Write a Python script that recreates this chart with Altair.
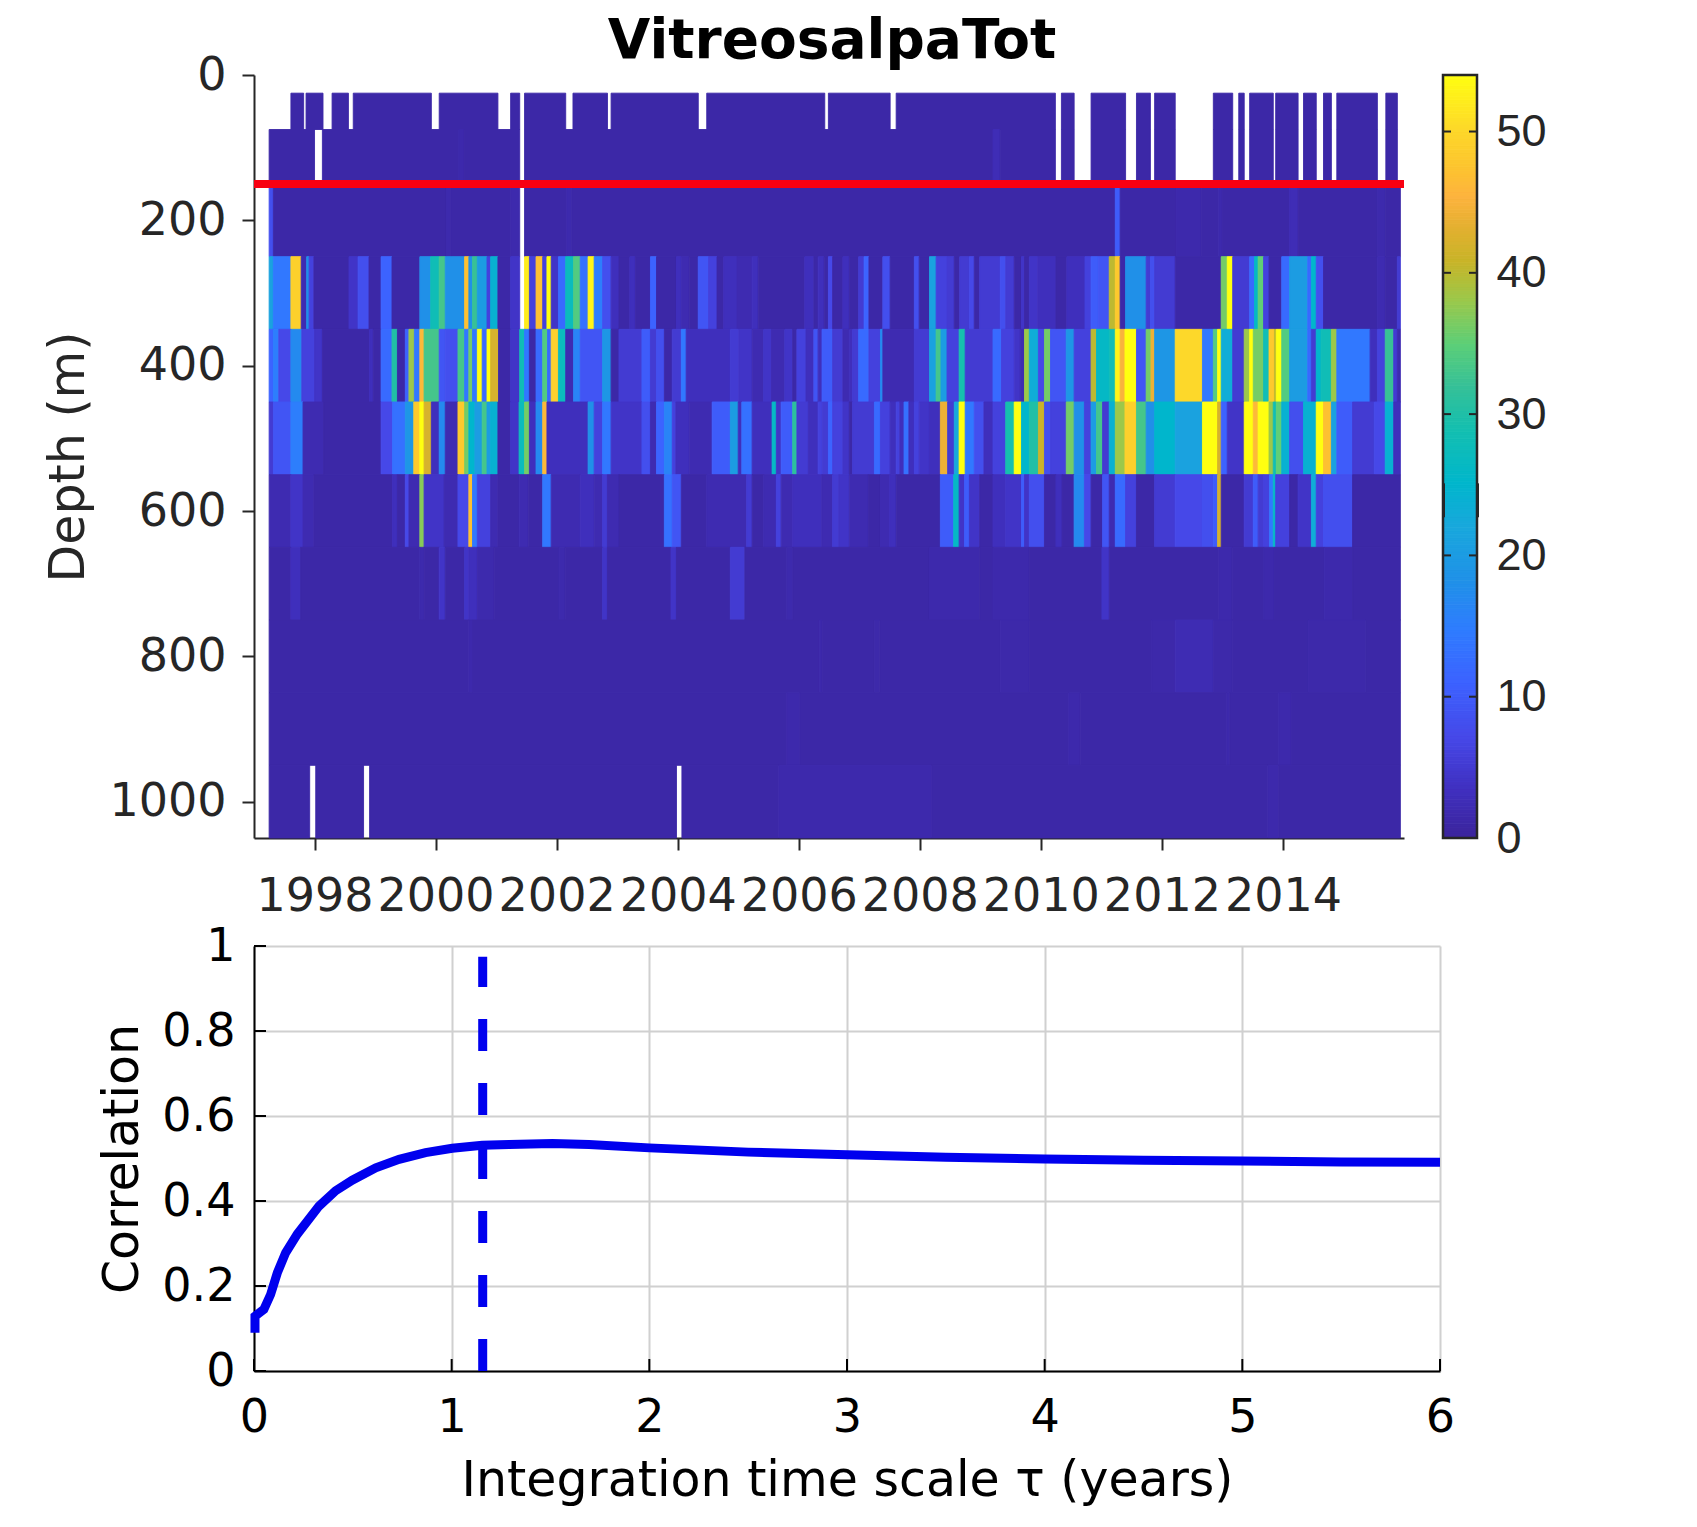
import altair as alt
import pandas as pd

TITLE = "VitreosalpaTot"

# each entry (t, value): a run starting t years after 1 Jan 1997; value None = no data; last entry closes the row
row_25 = [(.61,1),(.82,None),(.86,1),(1.14,None),(1.29,1),(1.56,None),(1.64,1),(2.93,None),(3.06,1),(4.03,None),(4.24,1),(4.39,None),(4.47,1),(5.15,None),(5.27,1),(5.84,None),(5.90,1),(7.34,None),(7.48,1),(9.43,None),(9.49,1),(10.51,None),(10.61,1),(13.24,None),(13.34,1),(13.55,None),(13.83,1),(14.40,None),(14.58,1),(14.81,None),(14.88,1),(15.22,None),(15.85,1),(16.17,None),(16.27,1),(16.36,None),(16.45,1),(16.84,None),(16.88,1),(17.25,None),(17.34,1),(17.55,None),(17.67,1),(17.80,None),(17.89,1),(18.56,None),(18.70,1),(18.89,None)]
row_75 = [(.25,1),(1.00,None),(1.13,1),(3.38,1.5),(3.47,1),(4.39,None),(4.47,1),(12.21,2.5),(12.33,1),(13.24,None),(13.34,1),(13.55,None),(13.83,1),(14.40,None),(14.58,1),(14.81,None),(14.88,1),(15.22,None),(15.85,1),(16.17,None),(16.27,1),(16.36,None),(16.45,1),(16.84,None),(16.88,1),(17.25,None),(17.34,1),(17.55,None),(17.67,1),(17.80,None),(17.89,1),(18.56,None),(18.70,1),(18.89,None)]
row_150 = [(.25,8),(.32,1),(3.18,1.6),(3.25,1),(4.24,1.6),(4.39,None),(4.47,1),(5.17,1.6),(5.25,1),(14.23,10),(14.31,1),(15.24,1.5),(15.65,1),(15.94,1.6),(16.0,1),(17.11,2.5),(17.25,1),(18.56,1.6),(18.69,1),(18.94,None)]
row_250 = [(.25,21),(.32,14),(.61,49),(.78,2),(.87,18),(.91,6),(.99,1),(1.57,4),(1.72,8),(1.90,1),(2.10,11),(2.28,1),(2.74,18),(2.92,28),(3.06,33),(3.16,18),(3.48,47),(3.55,18),(3.61,32),(3.69,20),(3.85,6),(3.91,24),(4.03,1),(4.24,4),(4.39,None),(4.47,52),(4.55,6),(4.66,47),(4.77,6),(4.84,54),(4.91,4),(5.03,12),(5.15,27),(5.28,34),(5.39,13),(5.52,53),(5.62,15),(5.76,8),(5.90,3),(6.03,1),(6.21,3),(6.30,1),(6.55,11),(6.65,1),(6.98,3),(7.06,2),(7.19,1),(7.34,9),(7.51,6),(7.65,1),(7.76,3),(7.98,2),(8.23,3),(8.33,1),(9.10,3),(9.25,1),(9.32,3),(9.42,1),(9.49,7),(9.56,1),(9.73,3),
           (9.835,1),(9.99,5),(10.08,11),(10.16,1),(10.39,8),(10.51,1),(10.91,8),(10.99,1),(11.16,21),(11.27,6),(11.45,5),(11.57,1),(11.66,5),(11.82,7),(11.90,1),(11.99,5),(12.33,8),(12.42,5),(12.56,1),(12.68,4),(12.73,1),(12.81,4),(12.95,3),(13.25,1),(13.43,3),(13.73,6),(13.83,10),(13.95,9),(14.13,40),(14.23,48),(14.31,1),(14.40,18),(14.74,5),(14.81,8),(14.88,5),(15.22,1),(15.98,36),(16.08,54),(16.17,5),(16.45,12),(16.53,26),(16.59,35),(16.68,6),(16.77,1),(16.98,12),(17.11,20),(17.41,12),(17.47,25),(17.55,8),(17.67,1),(18.56,2),(18.69,1),(18.89,5),(18.94,None)]
row_350 = [(.25,11),(.32,15),(.41,7),(.61,17),(.79,6),(1.00,4),(1.13,1),(1.91,3),(1.97,1),(2.10,12),(2.28,30),(2.37,1),(2.50,11),(2.56,38),(2.65,14),(2.74,46),(2.81,33),(3.06,9),(3.16,8),(3.37,33),(3.48,14),(3.55,36),(3.61,14),(3.69,54),(3.77,12),(3.85,54),(3.91,42),(4.04,1),(4.24,4),(4.39,28),(4.47,14),(4.55,1),(4.66,12),(4.77,34),(4.85,12),(4.91,49),(5.03,27),(5.15,2),(5.28,16),(5.39,9),(5.76,19),(5.90,1),(6.03,5),(6.41,10),(6.55,5),(6.65,8),(6.78,1),(6.91,5),(7.06,14),(7.14,3),(7.87,5),(8.01,4),(8.23,2),(8.42,4),(8.55,2),(8.77,4),(8.90,1),(8.97,6),(9.12,3),(9.25,9),(9.32,3),(9.385,10),(9.56,5),(9.73,2),
           (9.835,3),(9.89,5),(9.99,12),(10.16,6),(10.35,17),(10.39,2),(10.91,5),(11.16,21),(11.27,33),(11.35,20),(11.45,6),(11.65,29),(11.75,5),(12.21,12),(12.35,6),(12.56,4),(12.66,2),(12.73,38),(12.81,23),(12.96,7),(13.06,36),(13.16,9),(13.42,19),(13.55,6),(13.83,40),(13.92,26),(14.13,28),(14.23,53),(14.31,45),(14.39,54),(14.58,9),(14.74,36),(14.82,44),(14.88,19),(15.22,50),(15.67,14),(15.85,34),(15.92,54),(15.98,23),(16.17,5),(16.36,38),(16.45,54),(16.51,36),(16.68,28),(16.77,48),(16.86,40),(16.89,54),(16.98,34),(17.11,20),(17.41,12),(17.47,5),(17.55,25),(17.63,28),(17.80,38),(17.89,14),(18.44,3),(18.56,6),(18.69,32),(18.83,5),(18.89,2),(18.94,None)]
row_450 = [(.25,5),(.32,9),(.61,15),(.81,2),(1.15,1),(2.10,7),(2.29,13),(2.50,19),(2.64,48),(2.74,54),(2.81,42),(2.93,3),(3.06,17),(3.16,2),(3.37,48),(3.48,36),(3.55,25),(3.65,20),(3.77,33),(3.85,20),(3.91,24),(4.03,1),(4.24,4),(4.38,27),(4.47,36),(4.55,3),(4.66,17),(4.77,46),(4.84,3),(5.52,18),(5.62,6),(5.76,14),(5.90,4),(6.41,8),(6.55,2),(6.65,11),(6.78,16),(6.91,6),(6.97,3),(7.19,2),(7.57,10),(7.87,20),(8.00,3),(8.06,13),(8.23,3),(8.56,26),(8.63,4),(8.71,10),(8.90,31),(8.97,5),(9.16,3),(9.32,6),(9.39,5),(9.49,11),(9.56,6),(9.73,4),
           (9.835,1),(9.89,5),(10.25,12),(10.35,6),(10.51,3),(10.61,6),(10.67,3),(10.74,13),(10.82,3),(10.91,6),(10.99,4),(11.16,3),(11.34,44),(11.46,5),(11.57,22),(11.65,54),(11.75,14),(11.90,8),(12.06,3),(12.21,6),(12.42,29),(12.56,54),(12.68,25),(12.81,30),(12.96,41),(13.06,8),(13.16,6),(13.42,36),(13.55,18),(13.72,6),(13.83,20),(13.92,33),(14.02,5),(14.13,24),(14.23,38),(14.39,49),(14.58,33),(14.74,18),(14.88,25),(15.22,21),(15.67,54),(15.92,42),(15.98,11),(16.08,4),(16.36,54),(16.51,46),(16.59,54),(16.77,38),(16.84,28),(16.89,35),(16.98,24),(17.11,8),(17.34,24),(17.55,54),(17.67,47),(17.80,21),(17.89,10),(18.15,5),(18.51,7),(18.69,24),(18.83,3),(18.94,None)]
row_550 = [(.25,2),(.61,4),(.81,2),(.99,1),(2.29,3),(2.37,1),(2.50,7),(2.56,2),(2.74,37),(2.81,4),(3.14,2),(3.37,7),(3.55,47),(3.61,14),(3.69,6),(3.91,2),(4.03,1),(4.38,2),(4.53,1),(4.77,14),(4.91,2),(5.39,3),(5.62,2),(5.76,5),(5.84,2),(6.03,1),(6.78,13),(6.91,9),(7.06,1),(7.48,2),(8.14,5),(8.23,1),(8.42,2),(8.63,6),(8.71,2),(8.90,3),(9.38,2),(9.56,5),(9.66,4),
           (9.835,2),(10.15,1),(10.35,2),(10.50,3),(10.61,1),(11.34,10),(11.56,26),(11.65,4),(11.74,10),(11.82,4),(11.99,1),(12.21,3),(12.42,4),(12.68,10),(12.73,4),(12.81,8),(13.06,1),(13.25,3),(13.35,1),(13.55,17),(13.72,7),(13.83,1),(14.02,9),(14.13,2),(14.23,12),(14.40,6),(14.58,1),(14.88,5),(15.22,7),(15.67,8),(15.85,10),(15.92,42),(15.98,1),(16.36,5),(16.51,10),(16.59,5),(16.68,6),(16.78,14),(16.84,26),(16.88,6),(17.11,1),(17.25,4),(17.47,23),(17.55,6),(17.67,8),(18.15,1),(18.94,None)]
row_650 = [(.25,1),(.61,3),(.77,1),(2.74,1.6),(2.81,1),(3.06,4),(3.16,1),(3.48,4),(3.55,3),(3.69,1.6),(3.97,1),(5.04,1.6),(5.14,1),(5.76,4),(5.84,1),(6.89,4),(6.98,1),(7.87,5),(8.11,1),(8.80,1.6),(8.90,1),(11.16,1.5),(11.99,1),(12.21,1.5),(12.81,1),(14.01,4),(14.13,1),(15.94,1.5),(16.16,1),(16.68,1.5),(16.86,1),(17.68,1.5),(18.15,1),(18.94,None)]
row_750 = [(.25,1),(3.55,1.5),(3.61,1),(9.34,1.5),(9.39,1),(10.25,1.3),(10.34,1),(12.33,1.3),(12.81,1),(14.83,1.3),(15.22,2.2),(15.85,1.3),(16.16,1),(17.42,1.3),(18.37,1),(18.94,None)]
row_850 = [(.25,1),(8.80,1.5),(9.02,1),(13.46,1.5),(13.65,1),(16.07,1.5),(16.12,1),(16.93,1.5),(17.14,1),(18.94,None)]
row_950 = [(.25,1),(.92,None),(1.02,1),(1.81,None),(1.91,1),(6.98,None),(7.07,1),(8.67,1.5),(11.2,1),(16.75,1.5),(16.93,1),(18.94,None)]

rows = [row_25, row_75, row_150, row_250, row_350, row_450, row_550, row_650, row_750, row_850, row_950]
depth_tops = [25, 75, 150, 250, 350, 450, 550, 650, 750, 850, 950]
depth_bottoms = [75, 150, 250, 350, 450, 550, 650, 750, 850, 950, 1050]

year_start, year_end = 1997, 2016
year_ticks = [1998, 2000, 2002, 2004, 2006, 2008, 2010, 2012, 2014]
depth_ticks = [0, 200, 400, 600, 800, 1000]
ref_depth = 150

cbar_ticks = [0, 10, 20, 30, 40, 50]
cbar_mark = [22.7, 25.1]
cmap_values = [0, 3.4, 7, 10.9, 14.6, 18, 22, 25, 28.8, 31.8, 34.8, 38, 40.7, 43, 45.3, 47.5, 50, 54]
cmap_colors = ["#3b249c", "#4030c0", "#4648e8", "#3c62ff", "#2f7cff", "#2090e8", "#18a8dc", "#00b6cc", "#14bfb0",
               "#35c098", "#5ccf78", "#9cc84a", "#c8b428", "#e2b030", "#fdb33e", "#fdc52e", "#fdd82a", "#ffff10"]

tau = [0.005, 0.005, 0.05, 0.084, 0.118, 0.16, 0.219, 0.329, 0.413, 0.497, 0.616, 0.734, 0.868, 1.003, 1.155, 1.29, 1.51, 1.695, 2.0, 2.5, 3.0, 3.5, 4.0, 4.5, 5.0, 5.5, 6.0]
corr = [0.09, 0.129, 0.145, 0.18, 0.231, 0.278, 0.322, 0.388, 0.424, 0.449, 0.478, 0.498, 0.514, 0.524, 0.531, 0.533, 0.535, 0.533, 0.525, 0.515, 0.509, 0.503, 0.499, 0.496, 0.494, 0.492, 0.491]
tau_best = 1.157
tau_best_top = 0.975
corr_ticks = [0, 0.2, 0.4, 0.6, 0.8, 1]
tau_ticks = [0, 1, 2, 3, 4, 5, 6]

INK = "#262626"
FONT = "DejaVu Sans"

cells = []
for top, bot, row in zip(depth_tops, depth_bottoms, rows):
    for (a, v), (b, _) in zip(row[:-1], row[1:]):
        if v is not None:
            cells.append({"x0": year_start + a, "x1": year_start + b, "d0": top, "d1": bot, "v": v})
cells = pd.DataFrame(cells)

color_scale = alt.Scale(domain=cmap_values, range=cmap_colors, interpolate="rgb")
x_scale = alt.Scale(domain=[year_start, year_end], nice=False)
d_scale = alt.Scale(domain=[0, 1050], reverse=True, nice=False)

heat = alt.Chart(cells).mark_rect(strokeWidth=0.9).encode(
    x=alt.X("x0:Q", scale=x_scale, title=None,
            axis=alt.Axis(values=year_ticks, format="d", grid=False, tickSize=12, tickWidth=2, tickColor=INK,
                          domainColor=INK, domainWidth=2, labelFont=FONT, labelFontSize=46, labelColor=INK,
                          labelPadding=24, labelOverlap=False, labelFlush=False)),
    x2="x1:Q",
    y=alt.Y("d0:Q", scale=d_scale,
            axis=alt.Axis(values=depth_ticks, format="d", grid=False, tickSize=12, tickWidth=2, tickColor=INK,
                          domainColor=INK, domainWidth=2, labelFont=FONT, labelFontSize=46, labelColor=INK,
                          labelPadding=16, title="Depth (m)", titleFont=FONT, titleFontSize=49,
                          titleFontWeight="normal", titleColor=INK, titlePadding=15)),
    y2="d1:Q",
    color=alt.Color("v:Q", scale=color_scale, legend=None),
    stroke=alt.Color("v:Q", scale=color_scale, legend=None),
)
red = alt.Chart(pd.DataFrame({"x0": [year_start], "x1": [year_end], "d": [ref_depth]})).mark_rule(
    color="#f80012", strokeWidth=8).encode(x="x0:Q", x2="x1:Q", y="d:Q")
top_panel = alt.layer(heat, red).properties(
    width=1150, height=763,
    title=alt.TitleParams(TITLE, font=FONT, fontSize=55, fontWeight="bold", color="black", anchor="middle", offset=-18, dx=3),
)

cbar_df = pd.DataFrame({"v0": [i * 0.25 for i in range(216)], "v1": [(i + 1) * 0.25 for i in range(216)]})
cb_scale = alt.Scale(domain=[0, 54], nice=False)
cb_rect = alt.Chart(cbar_df).mark_rect(strokeWidth=0.9).encode(
    y=alt.Y("v0:Q", scale=cb_scale, title=None,
            axis=alt.Axis(orient="right", values=cbar_ticks, format="d", grid=False, ticks=False, domain=False,
                          labelFont="Liberation Sans", labelFontSize=45, labelColor=INK, labelPadding=19)),
    y2="v1:Q",
    x=alt.value(0), x2=alt.value(34),
    color=alt.Color("v0:Q", scale=color_scale, legend=None),
    stroke=alt.Color("v0:Q", scale=color_scale, legend=None),
)
cb_df = pd.DataFrame({"v": cbar_ticks})
cb_l = alt.Chart(cb_df).mark_rule(color=INK, strokeWidth=2).encode(y=alt.Y("v:Q", scale=cb_scale), x=alt.value(0), x2=alt.value(8))
cb_r = alt.Chart(cb_df).mark_rule(color=INK, strokeWidth=2).encode(y=alt.Y("v:Q", scale=cb_scale), x=alt.value(26), x2=alt.value(34))
cb_box = alt.Chart(pd.DataFrame({"a": [0], "b": [54]})).mark_rect(fillOpacity=0, stroke=INK, strokeWidth=2.5).encode(
    y=alt.Y("a:Q", scale=cb_scale), y2="b:Q", x=alt.value(0), x2=alt.value(34))
cm_df = pd.DataFrame({"a": [cbar_mark[0]], "b": [cbar_mark[1]]})
cm_l = alt.Chart(cm_df).mark_rule(color=INK, strokeWidth=3).encode(y=alt.Y("a:Q", scale=cb_scale), y2="b:Q", x=alt.value(0.5))
cm_r = alt.Chart(cm_df).mark_rule(color=INK, strokeWidth=3).encode(y=alt.Y("a:Q", scale=cb_scale), y2="b:Q", x=alt.value(34.5))
colorbar = alt.layer(cb_rect, cb_box, cb_l, cb_r, cm_l, cm_r).properties(width=34, height=763)

tau_scale = alt.Scale(domain=[0, 6], nice=False)
corr_scale = alt.Scale(domain=[0, 1], nice=False)
line_df = pd.DataFrame({"tau": tau, "corr": corr, "o": range(len(tau))})
line = alt.Chart(line_df).mark_line(color="#0000ee", strokeWidth=9, strokeCap="butt", clip=False).encode(
    x=alt.X("tau:Q", scale=tau_scale,
            axis=alt.Axis(values=tau_ticks, format="d", grid=True, gridColor="#d0d0d0", gridWidth=2, ticks=False,
                          domainColor="black", domainWidth=2, labelFont=FONT, labelFontSize=46, labelColor="black",
                          labelPadding=24, labelFlush=False, title="Integration time scale τ (years)", titleFont=FONT,
                          titleFontSize=49, titleFontWeight="normal", titleColor="black", titlePadding=16)),
    y=alt.Y("corr:Q", scale=corr_scale,
            axis=alt.Axis(values=corr_ticks, labelExpr="datum.value == 0 ? '0' : datum.value == 1 ? '1' : format(datum.value, '.1f')",
                          grid=True, gridColor="#d0d0d0", gridWidth=2, ticks=False,
                          domainColor="black", domainWidth=2, labelFont=FONT, labelFontSize=46, labelColor="black",
                          labelPadding=19, title="Correlation", titleFont=FONT, titleFontSize=49,
                          titleFontWeight="normal", titleColor="black", titlePadding=14)),
    order="o:Q",
)
dash = alt.Chart(pd.DataFrame({"t": [tau_best], "a": [0], "b": [tau_best_top]})).mark_rule(
    color="#0000ee", strokeWidth=9, strokeDash=[32, 32]).encode(
    x=alt.X("t:Q", scale=tau_scale), y=alt.Y("a:Q", scale=corr_scale), y2="b:Q")
yt = alt.Chart(pd.DataFrame({"v": corr_ticks})).mark_rule(color="black", strokeWidth=2).encode(
    y=alt.Y("v:Q", scale=corr_scale), x=alt.value(0), x2=alt.value(12))
xt = alt.Chart(pd.DataFrame({"v": tau_ticks})).mark_rule(color="black", strokeWidth=2).encode(
    x=alt.X("v:Q", scale=tau_scale), y=alt.value(425), y2=alt.value(413))
bottom_panel = alt.layer(yt, xt, line, dash).properties(width=1186, height=425)

chart = alt.concat(top_panel, colorbar, bottom_panel, columns=2, bounds="flush", spacing={"row": 108, "column": 3}).properties(
    padding={"left": 36, "top": 6, "right": 5, "bottom": 5}, background="white"
).configure_view(stroke="transparent", strokeWidth=0)

chart.save("out.html", embed_options={"renderer": "svg", "actions": False})
